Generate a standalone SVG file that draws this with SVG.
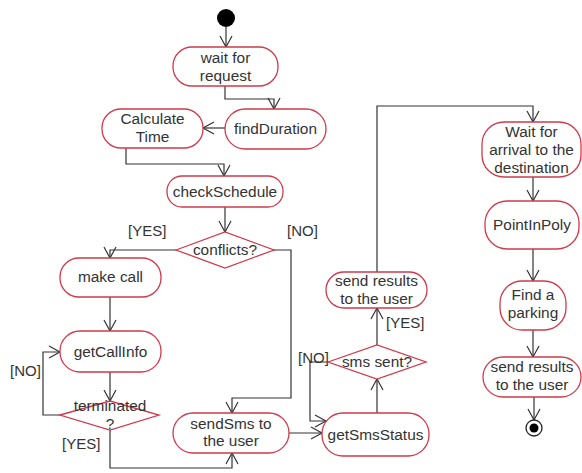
<svg xmlns="http://www.w3.org/2000/svg" width="582" height="473" viewBox="0 0 582 473">
<defs>
<style>
.n{fill:#fff;stroke:#d03a4c;stroke-width:1.3}
.t{font-family:"Liberation Sans",Arial,sans-serif;font-size:15.4px;fill:#333;text-anchor:middle}
.l{font-family:"Liberation Sans",Arial,sans-serif;font-size:15px;fill:#333}
.c{fill:none;stroke:#333;stroke-width:1.2;marker-end:url(#a)}
</style>
<marker id="a" markerUnits="userSpaceOnUse" markerWidth="14" markerHeight="16" refX="12" refY="7" orient="auto">
<path d="M1,1 L12,7 L1,13" fill="none" stroke="#333" stroke-width="1.2"/>
</marker>
</defs>
<rect width="582" height="473" fill="#fff"/>
<g id="connectors">
<path class="c" d="M226,27 L226,47"/>
<path class="c" d="M225,86 L225,99 L274,99 L274,109"/>
<path class="c" d="M225,128 L203,128"/>
<path class="c" d="M126,148 L126,164 L224,164 L224,176"/>
<path class="c" d="M225,207 L225,232"/>
<path class="c" d="M176,250 L110,250 L110,258"/>
<path class="c" d="M274,250 L291,250 L291,398 L232,398 L232,413"/>
<path class="c" d="M110,297 L110,331"/>
<path class="c" d="M110,372 L110,401"/>
<path class="c" d="M60,415 L43,415 L43,352 L60,352"/>
<path class="c" d="M110,430 L110,468 L232,468 L232,453"/>
<path class="c" d="M289,433 L322,433"/>
<path class="c" d="M328,362 L310,362 L310,421 L326,421"/>
<path class="c" d="M377,413 L377,379"/>
<path class="c" d="M377,345 L377,308"/>
<path class="c" d="M377,272 L377,106 L533,106 L533,122"/>
<path class="c" d="M533,177 L533,201"/>
<path class="c" d="M533,249 L533,281"/>
<path class="c" d="M533,330 L533,357"/>
<path class="c" d="M534,397 L534,420"/>
</g>
<g id="labels">
<text class="l" x="128" y="236">[YES]</text>
<text class="l" x="287" y="236">[NO]</text>
<text class="l" x="10" y="376">[NO]</text>
<text class="l" x="62" y="449">[YES]</text>
<text class="l" x="298" y="363">[NO]</text>
<text class="l" x="386" y="328">[YES]</text>
</g>
<g id="start"><circle cx="226" cy="18" r="9" fill="#000"/></g>
<g id="waitRequest"><rect class="n" x="173" y="47" width="105" height="39" rx="19"/><text class="t" x="225.5" y="63">wait for</text><text class="t" x="225.5" y="81">request</text></g>
<g id="findDuration"><rect class="n" x="225" y="109" width="101" height="40" rx="20"/><text class="t" x="275.5" y="134">findDuration</text></g>
<g id="calculateTime"><rect class="n" x="102" y="109" width="101" height="39" rx="19"/><text class="t" x="152.5" y="124">Calculate</text><text class="t" x="152.5" y="142">Time</text></g>
<g id="checkSchedule"><rect class="n" x="167" y="176" width="116" height="31" rx="15"/><text class="t" x="225" y="197">checkSchedule</text></g>
<g id="conflicts"><polygon class="n" points="176,250 225,232 274,250 225,268"/><text class="t" x="225" y="255">conflicts?</text></g>
<g id="makeCall"><rect class="n" x="60" y="258" width="101" height="39" rx="19"/><text class="t" x="110.5" y="282">make call</text></g>
<g id="getCallInfo"><rect class="n" x="60" y="331" width="101" height="41" rx="20"/><text class="t" x="110.5" y="357">getCallInfo</text></g>
<g id="terminated"><polygon class="n" points="60,415 110,401 159,415 110,430"/><text class="t" x="110" y="411">terminated</text><text class="t" x="110" y="429">?</text></g>
<g id="sendSms"><rect class="n" x="173" y="413" width="116" height="40" rx="20"/><text class="t" x="231" y="428.5">sendSms to</text><text class="t" x="231" y="446">the user</text></g>
<g id="getSmsStatus"><rect class="n" x="322" y="413" width="107" height="43" rx="21"/><text class="t" x="375.5" y="440">getSmsStatus</text></g>
<g id="smsSent"><polygon class="n" points="328,362 377,345 426,362 377,379"/><text class="t" x="377" y="367">sms sent?</text></g>
<g id="sendResults1"><rect class="n" x="326" y="272" width="101" height="36" rx="18"/><text class="t" x="376.5" y="286">send results</text><text class="t" x="376.5" y="304">to the user</text></g>
<g id="waitArrival"><rect class="n" x="482" y="122" width="99" height="55" rx="22"/><text class="t" x="531.5" y="137">Wait for</text><text class="t" x="531.5" y="155">arrival to the</text><text class="t" x="531.5" y="173">destination</text></g>
<g id="pointInPoly"><rect class="n" x="485" y="201" width="94" height="48" rx="22"/><text class="t" x="532" y="230">PointInPoly</text></g>
<g id="findParking"><rect class="n" x="500" y="281" width="66" height="49" rx="22"/><text class="t" x="533" y="299.5">Find a</text><text class="t" x="533" y="317.5">parking</text></g>
<g id="sendResults2"><rect class="n" x="483" y="357" width="98" height="40" rx="20"/><text class="t" x="532" y="372">send results</text><text class="t" x="532" y="390">to the user</text></g>
<g id="end"><circle cx="534" cy="428" r="8" fill="#fff" stroke="#222" stroke-width="1.3"/><circle cx="534" cy="428" r="4.5" fill="#000"/></g>
</svg>
